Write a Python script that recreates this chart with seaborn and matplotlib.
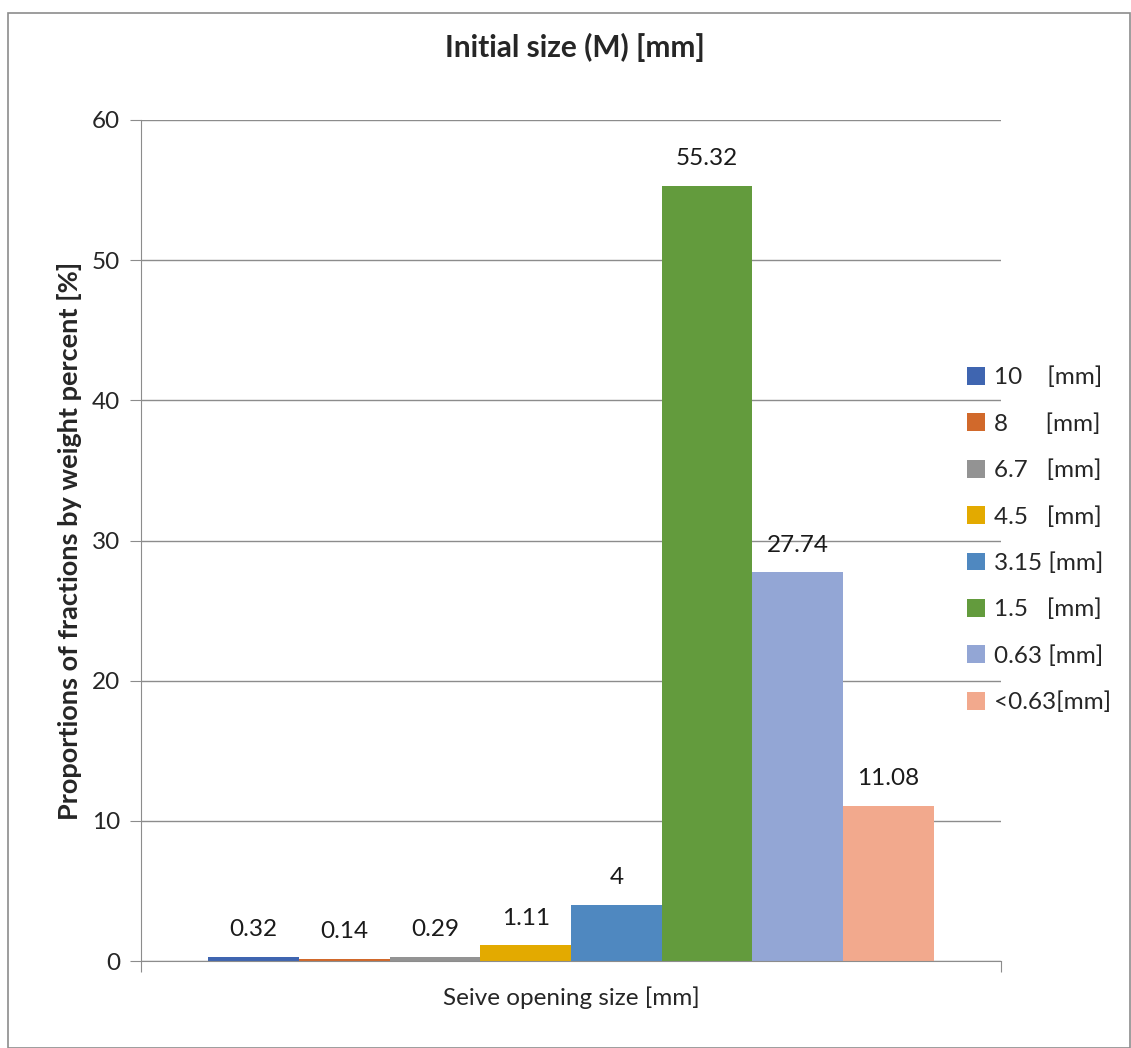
import pandas as pd
import seaborn as sns
import matplotlib.pyplot as plt
from matplotlib.patches import Rectangle

# sieve fractions and measured weight percent
sizes = ['10    [mm]', '8      [mm]', '6.7   [mm]', '4.5   [mm]',
         '3.15 [mm]', '1.5   [mm]', '0.63 [mm]', '<0.63[mm]']
values = [0.32, 0.14, 0.29, 1.11, 4, 55.32, 27.74, 11.08]
value_labels = ['0.32', '0.14', '0.29', '1.11', '4', '55.32', '27.74', '11.08']
colors = ['#3F65B0', '#D1692B', '#939393', '#E3AA00',
          '#4F88C0', '#639B3D', '#93A6D5', '#F2A98D']

df = pd.DataFrame({'group': ['M'] * len(sizes), 'size': sizes, 'value': values})

sns.set_style('white')
plt.rcParams['font.family'] = ['Lato', 'DejaVu Sans']
FS = 17.5

fig = plt.figure(figsize=(11.31, 10.48), dpi=100)
W, H = 1131, 1048
ax = fig.add_axes([141 / W, 1 - 961 / H, 860 / W, 841 / H])

sns.barplot(data=df, x='group', y='value', hue='size', hue_order=sizes,
            palette=colors, width=0.844, saturation=1, ax=ax, legend=True,
            linewidth=0, edgecolor='none')

for cont, lab in zip(ax.containers, value_labels):
    ax.bar_label(cont, labels=[lab], padding=12, fontsize=FS, color='#1a1a1a')

ax.set_ylim(0, 60)
ax.set_xlim(-0.5, 0.5)
ax.set_yticks(range(0, 61, 10))
ax.yaxis.grid(True, color='#8c8c8c', linewidth=1)
ax.set_axisbelow(True)
for s in ['top', 'right']:
    ax.spines[s].set_visible(False)
for s in ['left', 'bottom']:
    ax.spines[s].set_color('#8c8c8c')
ax.tick_params(axis='y', length=8, color='#8c8c8c', labelsize=FS, pad=7, left=True)
ax.set_xticks([-0.5, 0.5])
ax.set_xticklabels(['', ''])
ax.tick_params(axis='x', length=8, color='#8c8c8c', bottom=True)

ax.set_xlabel('Seive opening size [mm]', fontsize=FS, labelpad=7)
ax.set_ylabel('Proportions of fractions by weight percent [%]', fontsize=19.5,
              fontweight='bold', labelpad=7)
fig.text(575 / W, 1 - 47 / H, 'Initial size (M) [mm]', fontsize=21.5,
         fontweight='bold', ha='center', va='center')

handles, labels = ax.get_legend_handles_labels()
ax.legend(handles, labels, loc='center left', bbox_to_anchor=(945 / W, 1 - 540 / H),
          bbox_transform=fig.transFigure, frameon=False, fontsize=FS,
          handlelength=0.75, handleheight=0.75, handletextpad=0.35,
          labelspacing=1.02)

fig.patches.append(Rectangle((8 / W, 0), 1 - 8 / W - 0.0005, 1 - 13 / H,
                             transform=fig.transFigure, fill=False,
                             edgecolor='#8c8c8c', linewidth=1.2))

fig.savefig('out.png', dpi=100)
plt.close(fig)
